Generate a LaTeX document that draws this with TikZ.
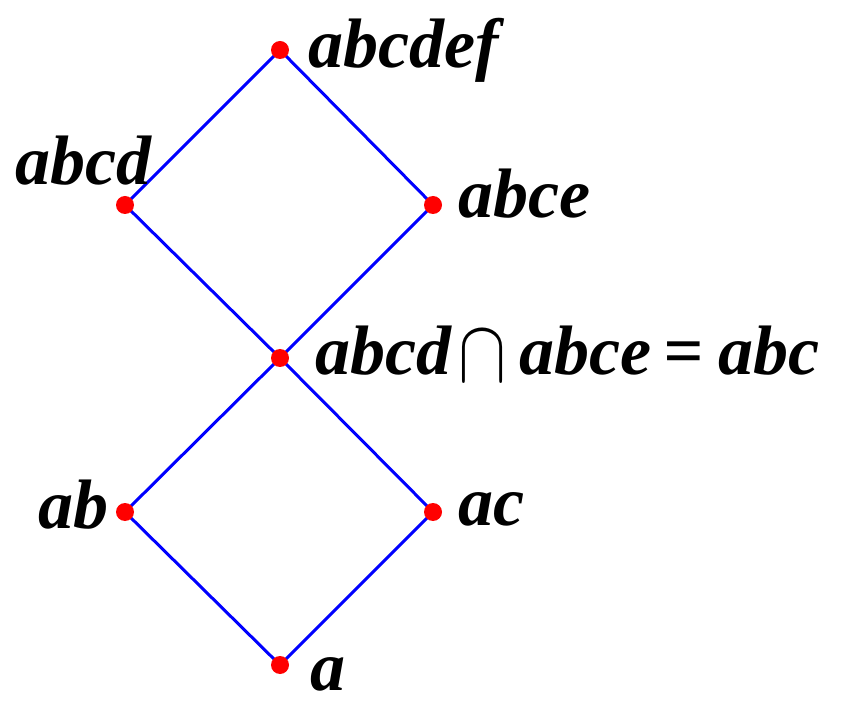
\documentclass[tikz,border=0pt]{standalone}
\usepackage{fontspec}
\usepackage{graphicx}
\setmainfont{Liberation Serif}
\begin{document}
\begin{tikzpicture}[x=1pt,y=-1pt,
  vtx/.style={circle,fill=red,inner sep=0pt,minimum size=18pt},
  edge/.style={blue,line width=3pt},
  lbl/.style={anchor=base west,inner sep=0pt,font=\fontsize{70}{70}\selectfont\bfseries\itshape}]
\useasboundingbox (0,0) rectangle (841,708);
\coordinate (p1) at (280,50);
\coordinate (p2) at (125,205);
\coordinate (p3) at (433,205);
\coordinate (p4) at (280,358);
\coordinate (p5) at (125,512);
\coordinate (p6) at (433,512);
\coordinate (p7) at (280,665);
\draw[edge] (p1) -- (p2) -- (p4) -- (p3) -- (p1);
\draw[edge] (p4) -- (p5) -- (p7) -- (p6) -- (p4);
\foreach \p in {p1,p2,p3,p4,p5,p6,p7} \node[vtx] (n\p) at (\p) {};
\node[lbl] (l1) at (308,68) {abcdef};
\node[lbl] (l2) at (15,185) {abcd};
\node[lbl] (l3) at (458,218) {abce};
\node[lbl] (l4) at (315,375) {abcd\hspace{7pt}\raisebox{-7pt}{\scalebox{2.9}[3.6]{$\cap$}}\hspace{13pt}abce\hspace{12pt}=\hspace{15pt}abc};
\node[lbl] (l5) at (38,528) {ab};
\node[lbl] (l6) at (458,525) {ac};
\node[lbl] (l7) at (310,690) {a};
\end{tikzpicture}
\end{document}
